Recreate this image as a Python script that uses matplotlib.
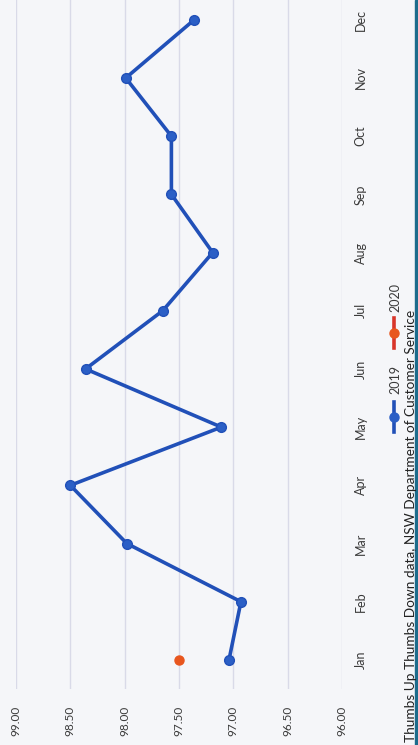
import matplotlib.pyplot as plt
from matplotlib.lines import Line2D
from matplotlib.patches import Rectangle

# =====================================================
# DATA
# =====================================================

months = ["Jan", "Feb", "Mar", "Apr", "May", "Jun",
          "Jul", "Aug", "Sep", "Oct", "Nov", "Dec"]

values_2019 = [97.04, 96.93, 97.98, 98.50, 97.11, 98.36,
               97.65, 97.19, 97.57, 97.57, 97.99, 97.36]

values_2020 = [97.50]

value_ticks = [99.00, 98.50, 98.00, 97.50, 97.00, 96.50, 96.00]

caption = "Thumbs Up Thumbs Down data, NSW Department of Customer Service"

# =====================================================
# STYLE
# =====================================================

plt.rcParams["font.family"] = ["Lato", "DejaVu Sans"]

BLUE = "#2150b8"
ORANGE = "#e8561e"
RED = "#d8352a"
GRID = "#d9dae8"
TEXT = "#3a3a3a"
BG = "#f5f6f9"

# =====================================================
# FIGURE (chart is photographed rotated 90 degrees)
# =====================================================

W, H = 418, 745
fig = plt.figure(figsize=(W / 100, H / 100), dpi=100)
fig.patch.set_facecolor(BG)

ax = fig.add_axes([16 / W, (H - 689) / H, (342 - 16) / W, 689 / H])
ax.set_facecolor(BG)

idx = list(range(len(months)))

ax.plot(
    values_2019,
    idx,
    color=BLUE,
    linewidth=2.6,
    marker="o",
    markersize=7,
    markerfacecolor="#2b5fc6",
    markeredgecolor=BLUE,
    solid_capstyle="round",
    zorder=3
)

ax.plot(
    values_2020,
    idx[:len(values_2020)],
    color=RED,
    linewidth=2.6,
    marker="o",
    markersize=6.5,
    markerfacecolor=ORANGE,
    markeredgecolor=ORANGE,
    linestyle="none",
    zorder=3
)

ax.set_xlim(99.0, 96.0)
ax.set_ylim(-0.5, 11.34)

ax.set_xticks(value_ticks)
ax.set_xticklabels([f"{v:.2f}" for v in value_ticks], rotation=90,
                   fontsize=8.5, color=TEXT)

ax.set_yticks(idx)
ax.set_yticklabels(months, rotation=90, fontsize=9, color=TEXT, va="center")
ax.yaxis.tick_right()

ax.tick_params(axis="x", length=0, pad=12)
ax.tick_params(axis="y", length=0, pad=9)

ax.grid(True, axis="x", color=GRID, linewidth=1.0)
ax.grid(False, axis="y")

for s in ax.spines.values():
    s.set_visible(False)

# =====================================================
# LEGEND (drawn by hand, rotated)
# =====================================================

def px(x, y):
    return x / W, (H - y) / H

x0, y_a = px(394, 402)
_, y_b = px(394, 432)
_, y_m = px(394, 417)
fig.add_artist(Line2D([x0, x0], [y_a, y_b], color=BLUE, linewidth=2.6,
                      transform=fig.transFigure))
fig.add_artist(Line2D([x0], [y_m], marker="o", markersize=6.5,
                      color="#2b5fc6", transform=fig.transFigure))
tx, ty = px(395, 380)
fig.text(tx, ty, "2019", rotation=90, ha="center", va="center",
         fontsize=9, color=TEXT)

_, y_a = px(394, 318)
_, y_b = px(394, 348)
_, y_m = px(394, 333)
fig.add_artist(Line2D([x0, x0], [y_a, y_b], color=RED, linewidth=2.6,
                      transform=fig.transFigure))
fig.add_artist(Line2D([x0], [y_m], marker="o", markersize=6.5,
                      color=ORANGE, transform=fig.transFigure))
tx, ty = px(395, 297)
fig.text(tx, ty, "2020", rotation=90, ha="center", va="center",
         fontsize=9, color=TEXT)

# =====================================================
# CAPTION + PHOTO EDGE
# =====================================================

cx, cy = px(411, 742)
fig.text(cx, cy, caption, rotation=90, ha="center", va="bottom",
         fontsize=9.8, color="#222222")

fig.add_artist(Rectangle((415 / W, 0), 3 / W, 1, color="#1d6c8c",
                         transform=fig.transFigure))

fig.savefig("out.png", dpi=100, facecolor=BG)
